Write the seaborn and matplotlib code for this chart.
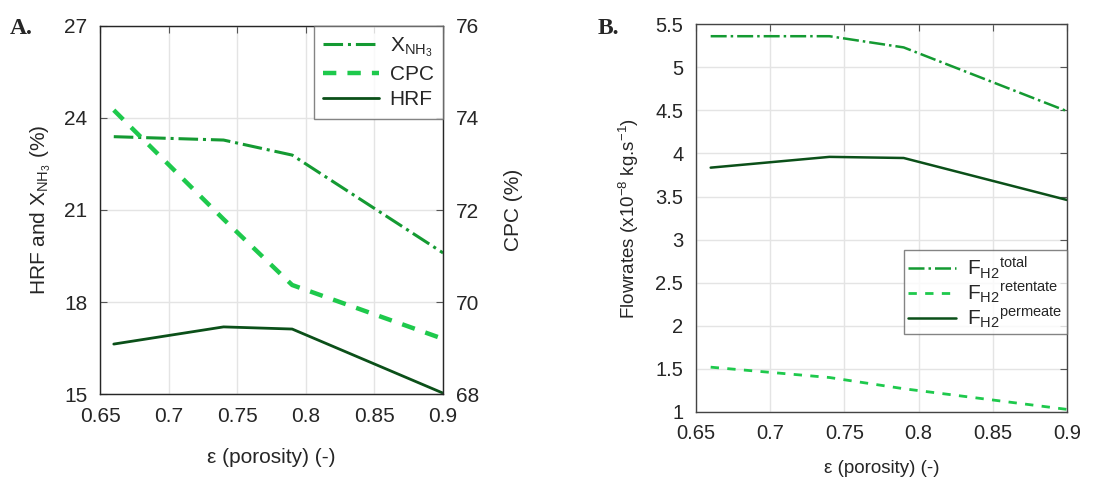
import numpy as np
import pandas as pd
import seaborn as sns
import matplotlib.pyplot as plt

# DATOS
porosidad = [0.66, 0.74, 0.79, 0.9]
x_nh3 = [23.39, 23.28, 22.79, 19.6]
hrf = [16.63, 17.19, 17.12, 15.03]
cpc = [74.17, 71.80, 70.37, 69.2]

f_total = [5.36, 5.36, 5.23, 4.49]
f_retentate = [1.52, 1.40, 1.27, 1.03]
f_permeate = [3.835, 3.96, 3.947, 3.46]

# COLORES
verde_medio = "#149a32"
verde_claro = "#1ec94c"
verde_oscuro = "#0b5019"

sns.set_style("white")
plt.rcParams['font.family'] = ['Liberation Sans', 'DejaVu Sans']
plt.rcParams['mathtext.fontset'] = 'custom'
plt.rcParams['mathtext.rm'] = 'Liberation Sans'
plt.rcParams['mathtext.it'] = 'Liberation Sans'

fig = plt.figure(figsize=(11.08, 4.8), dpi=100)
axA = fig.add_axes([0.0903, 0.179, 0.3096, 0.767])
axB = fig.add_axes([0.628, 0.1417, 0.335, 0.808])


def estilo_eje(ax, fs):
    ax.grid(True, color="#e4e4e4", linewidth=1)
    ax.set_axisbelow(True)
    ax.tick_params(direction='in', length=5, labelsize=fs, color="#555555", top=True, pad=9)
    for s in ax.spines.values():
        s.set_color("#444444")
        s.set_linewidth(1)


# PANEL A
df_a = pd.DataFrame({'eps': porosidad, 'xnh3': x_nh3, 'hrf': hrf, 'cpc': cpc})
sns.lineplot(data=df_a, x='eps', y='xnh3', ax=axA, color=verde_medio, linestyle='-.', linewidth=2.2)
sns.lineplot(data=df_a, x='eps', y='hrf', ax=axA, color=verde_oscuro, linewidth=2)
axA2 = axA.twinx()
sns.lineplot(data=df_a, x='eps', y='cpc', ax=axA2, color=verde_claro, linestyle=(0, (3, 2.5)), linewidth=3.2)

axA.set_xlim(0.65, 0.9)
axA.set_ylim(15, 27)
axA.set_yticks([15, 18, 21, 24, 27])
axA.set_xticks([0.65, 0.7, 0.75, 0.8, 0.85, 0.9])
axA.set_xticklabels(['0.65', '0.7', '0.75', '0.8', '0.85', '0.9'])
axA2.set_ylim(68, 76)
axA2.set_yticks([68, 70, 72, 74, 76])
estilo_eje(axA, 15)
axA2.tick_params(direction='in', length=5, labelsize=15, color="#555555", pad=9)
axA.tick_params(right=False)
axA.set_xlabel('ε (porosity) (-)', fontsize=15, labelpad=16)
axA.set_ylabel(r'HRF and X$_{\mathregular{NH_3}}$ (%)', fontsize=15, labelpad=8)
axA2.set_ylabel('CPC (%)', fontsize=15, labelpad=18)

h = [axA.lines[0], axA2.lines[0], axA.lines[1]]
etiquetas = [r'X$_{\mathregular{NH_3}}$', 'CPC', 'HRF']
legA = axA2.legend(h, etiquetas, loc='upper right', fontsize=15, frameon=True, fancybox=False,
                   borderaxespad=0, handlelength=2.7, labelspacing=0.3, borderpad=0.45, handletextpad=0.5)
legA.get_frame().set_edgecolor("#666666")
legA.get_frame().set_linewidth(1)

# PANEL B
df_b = pd.DataFrame({'eps': porosidad, 'total': f_total, 'ret': f_retentate, 'perm': f_permeate})
sns.lineplot(data=df_b, x='eps', y='total', ax=axB, color=verde_medio, linestyle='-.', linewidth=1.8,
             label=r'F$_{\mathregular{H2}}{}^{\mathregular{total}}$')
sns.lineplot(data=df_b, x='eps', y='ret', ax=axB, color=verde_claro, linestyle=(0, (3, 3)), linewidth=2,
             label=r'F$_{\mathregular{H2}}{}^{\mathregular{retentate}}$')
sns.lineplot(data=df_b, x='eps', y='perm', ax=axB, color=verde_oscuro, linewidth=1.8,
             label=r'F$_{\mathregular{H2}}{}^{\mathregular{permeate}}$')

axB.set_xlim(0.65, 0.9)
axB.set_ylim(1, 5.5)
axB.set_yticks([1, 1.5, 2, 2.5, 3, 3.5, 4, 4.5, 5, 5.5])
axB.set_yticklabels(['1', '1.5', '2', '2.5', '3', '3.5', '4', '4.5', '5', '5.5'])
axB.set_xticks([0.65, 0.7, 0.75, 0.8, 0.85, 0.9])
axB.set_xticklabels(['0.65', '0.7', '0.75', '0.8', '0.85', '0.9'])
estilo_eje(axB, 14.5)
axB.tick_params(right=True)
axB.set_xlabel('ε (porosity) (-)', fontsize=13.5, labelpad=12)
axB.set_ylabel(r'Flowrates (x10$^{-8}$ kg.s$^{-1}$)', fontsize=13.5, labelpad=10)

legB = axB.legend(loc='lower right', bbox_to_anchor=(1.0, 0.2), fontsize=15, frameon=True,
                  fancybox=False, borderaxespad=0, handlelength=2.3, labelspacing=0.0, borderpad=0.2,
                  handletextpad=0.55)
legB.get_frame().set_edgecolor("#666666")
legB.get_frame().set_linewidth(1)

# ETIQUETAS DE PANEL
fig.text(0.009, 0.94, 'A.', fontsize=17, fontweight='bold', family='Liberation Serif', va='center')
fig.text(0.539, 0.94, 'B.', fontsize=17, fontweight='bold', family='Liberation Serif', va='center')

fig.savefig('out.png', dpi=100)
